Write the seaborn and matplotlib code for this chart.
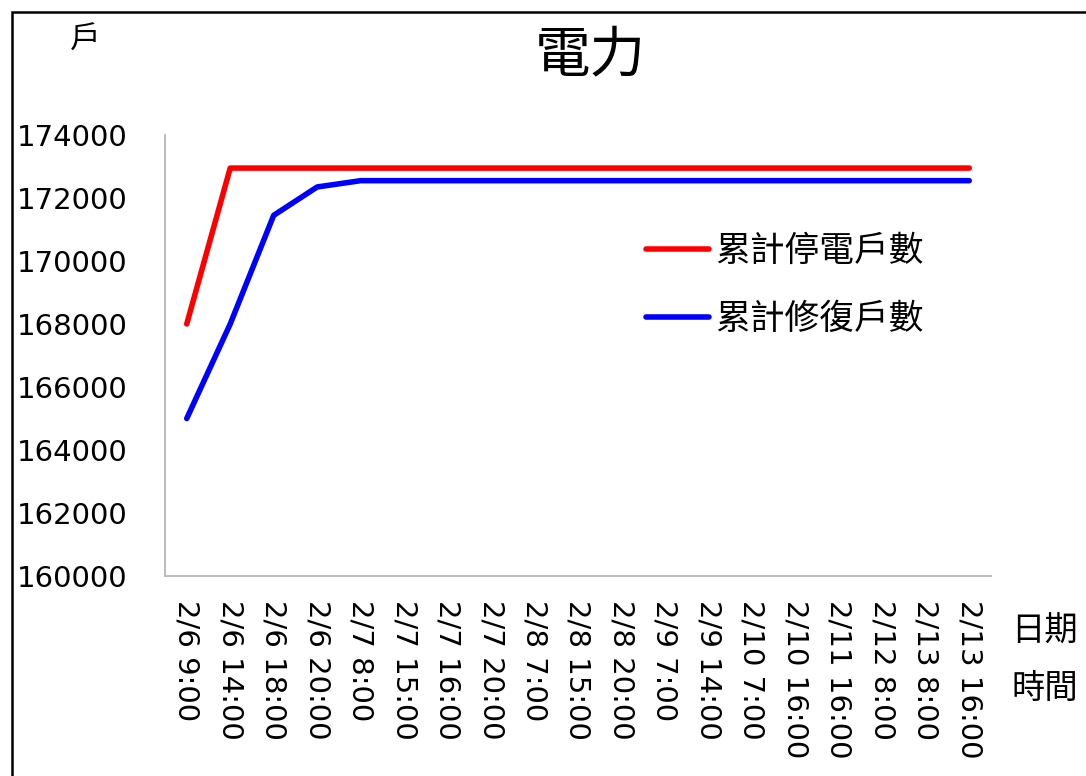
import numpy as np
import pandas as pd
import matplotlib
matplotlib.use('Agg')
import matplotlib.pyplot as plt
import seaborn as sns
from matplotlib.patches import Rectangle

# data
times = ['2/6 9:00', '2/6 14:00', '2/6 18:00', '2/6 20:00', '2/7 8:00',
         '2/7 15:00', '2/7 16:00', '2/7 20:00', '2/8 7:00', '2/8 15:00',
         '2/8 20:00', '2/9 7:00', '2/9 14:00', '2/10 7:00', '2/10 16:00',
         '2/11 16:00', '2/12 8:00', '2/13 8:00', '2/13 16:00']
outage = [168000, 172950, 172950, 172950, 172950, 172950, 172950, 172950,
          172950, 172950, 172950, 172950, 172950, 172950, 172950, 172950,
          172950, 172950, 172950]
restored = [165000, 168000, 171450, 172350, 172550, 172550, 172550, 172550,
            172550, 172550, 172550, 172550, 172550, 172550, 172550, 172550,
            172550, 172550, 172550]
series_names = ['累計停電戶數', '累計修復戶數']
series_colors = ['#ff0000', '#0000ff']

df = pd.DataFrame({
    'time': times * 2,
    'x': list(range(len(times))) * 2,
    'value': outage + restored,
    'series': [series_names[0]] * len(times) + [series_names[1]] * len(times),
})

sns.set_style('white')
plt.rcParams['font.family'] = ['DejaVu Sans']
plt.rcParams['text.color'] = 'black'
plt.rcParams['xtick.color'] = 'black'
plt.rcParams['ytick.color'] = 'black'
plt.rcParams['axes.labelcolor'] = 'black'
cjk = ['Noto Sans CJK TC', 'DejaVu Sans']

fig = plt.figure(figsize=(10.86, 7.76), dpi=100)
ax = fig.add_axes([165 / 1086, 1 - 576 / 776, 826 / 1086, 441 / 776])

sns.lineplot(data=df, x='x', y='value', hue='series', palette=series_colors,
             linewidth=4.0, sort=False, ax=ax, solid_capstyle='round')

ax.set_xlim(-0.5, len(times) - 0.5)
ax.set_ylim(160000, 174000)
ax.set_yticks(np.arange(160000, 174001, 2000))
ax.set_xticks(range(len(times)))
ax.set_xticklabels(times, rotation=270, fontsize=21)
ax.tick_params(axis='y', labelsize=21, length=0, pad=27)
ax.tick_params(axis='x', length=0, pad=17)
for lab in ax.get_xticklabels():
    lab.set_verticalalignment('top')
    lab.set_horizontalalignment('center')

for side in ['top', 'right']:
    ax.spines[side].set_visible(False)
for side in ['left', 'bottom']:
    ax.spines[side].set_color('#b0b0b0')
    ax.spines[side].set_linewidth(1.2)

ax.set_title('電力', fontsize=40, family=cjk, weight='medium',
             x=0.515, y=1.16, va='center')
ax.set_ylabel('戶', rotation=0, fontsize=22, family=cjk, va='center', ha='center')
ax.yaxis.set_label_coords(-0.097, 1.215)
ax.set_xlabel('日期\n時間', fontsize=24, family=cjk, linespacing=1.8,
              va='center', ha='center')
ax.xaxis.set_label_coords(1.065, -0.19)

leg = ax.legend(loc='upper left', bbox_to_anchor=(646 / 1086, 1 - 234 / 776),
                bbox_transform=fig.transFigure, frameon=False,
                prop={'family': cjk, 'size': 25}, handlelength=1.8,
                handletextpad=0.2, labelspacing=0.95, borderpad=0,
                borderaxespad=0)
for line in leg.get_lines():
    line.set_linewidth(4.0)

fig.patches.append(Rectangle((12 / 1086, -0.01), 1.0, 1 - 12 / 776 + 0.01,
                             transform=fig.transFigure, fill=False,
                             edgecolor='black', linewidth=1.8))

fig.savefig('out.png', dpi=100)
